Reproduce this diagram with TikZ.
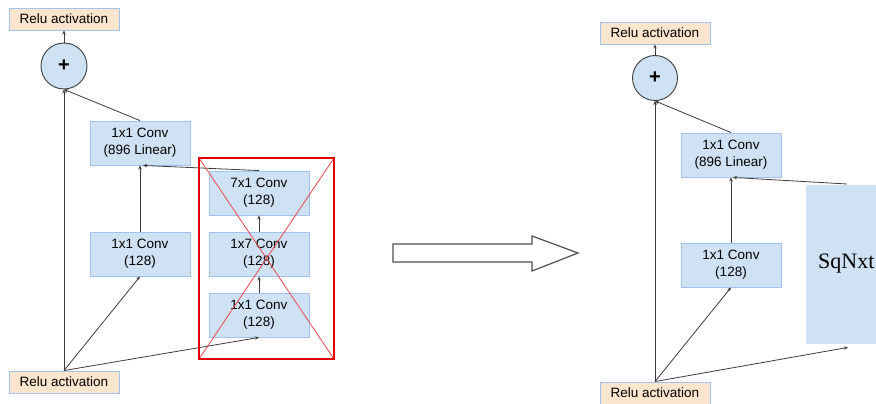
\documentclass[tikz,border=0pt]{standalone}
\usepackage{fontspec}
\setmainfont{Liberation Sans}
\newfontfamily\serifsq{Liberation Serif}
\usetikzlibrary{arrows.meta}
\definecolor{convfill}{RGB}{207,226,243}
\definecolor{convborder}{RGB}{164,194,238}
\definecolor{relufill}{RGB}{252,229,205}
\definecolor{linegray}{RGB}{60,60,60}
\definecolor{crossred}{RGB}{235,70,80}
\tikzset{
  conv/.style={rectangle, draw=convborder, fill=convfill, line width=0.9pt, minimum width=100pt, minimum height=44pt, inner sep=0pt, align=center, font=\fontsize{13.5}{17}\selectfont},
  relu/.style={rectangle, draw=convborder, fill=relufill, line width=0.9pt, minimum width=110pt, minimum height=22pt, inner sep=0pt, font=\fontsize{13.5}{16}\selectfont},
  addnode/.style={circle, draw=linegray, fill=convfill, line width=0.9pt, minimum size=46pt, inner sep=0pt, font=\fontsize{20}{20}\selectfont\bfseries},
  conn/.style={draw=linegray, line width=0.8pt, -{Stealth[length=4pt,width=3.5pt]}},
  redframe/.style={draw=red!90!black, line width=2.5pt},
  redcross/.style={draw=crossred, line width=0.8pt},
  bigarrow/.style={draw=linegray!90, line width=1.2pt, fill=white, line join=miter}
}
\begin{document}
\begin{tikzpicture}[x=1pt,y=-1pt]
\useasboundingbox (0,0) rectangle (876,404);
% ---------- left ----------
\node[relu] (rtopL) at (64,19) {Relu activation};
\node[addnode] (addL) at (64,66) {+};
\node[conv] (linL) at (140,143) {1x1 Conv\\(896 Linear)};
\node[conv] (c71) at (259,193) {7x1 Conv\\(128)};
\node[conv] (c17) at (259,254) {1x7 Conv\\(128)};
\node[conv] (c11b) at (259,315) {1x1 Conv\\(128)};
\node[conv] (c11L) at (140,254) {1x1 Conv\\(128)};
\node[relu] (rbotL) at (64,382) {Relu activation};

\draw[conn] (rbotL.north) -- (addL.south);
\draw[conn] (rbotL.north) -- (c11L.south);
\draw[conn] (rbotL.north) -- (c11b.south);
\draw[conn] (c11b.north) -- (c17.south);
\draw[conn] (c17.north) -- (c71.south);
\draw[conn] (c71.north) -- ([xshift=3pt]linL.south);
\draw[conn] (c11L.north) -- (linL.south);
\draw[conn] (linL.north) -- (addL.south);
\draw[conn] (addL.north) -- (rtopL.south);

\coordinate (rfTL) at (199,158);
\coordinate (rfBR) at (334,359);
\coordinate (rfTR) at (334,158);
\coordinate (rfBL) at (199,359);
\draw[redcross] (rfTL) -- (rfBR);
\draw[redcross] (rfTR) -- (rfBL);
\draw[redframe] (rfTL) rectangle (rfBR);

% ---------- big hollow arrow ----------
\draw[bigarrow] (393,244) -- (532,244) -- (532,236) -- (578,253) -- (532,271) -- (532,262) -- (393,262) -- cycle;

% ---------- right ----------
\node[relu] (rtopR) at (655,33) {Relu activation};
\node[addnode, minimum size=45pt] (addR) at (655,78) {+};
\node[conv] (linR) at (731,155) {1x1 Conv\\(896 Linear)};
\node[conv] (c11R) at (731,265) {1x1 Conv\\(128)};
\node[relu] (rbotR) at (655,393) {Relu activation};
\node[rectangle, fill=convfill, minimum width=84pt, minimum height=159pt, inner sep=0pt, anchor=north west] (sq) at (806,185) {};
\node[anchor=west, inner sep=0pt, font=\serifsq\fontsize{22}{22}\selectfont] (sqtext) at ([xshift=12pt,yshift=1pt]sq.west) {SqNxt};
\coordinate (sqin) at ([xshift=42pt,yshift=-3pt]sq.south west);
\coordinate (sqout) at ([xshift=41pt,yshift=1pt]sq.north west);

\draw[conn] (rbotR.north) -- (addR.south);
\draw[conn] (rbotR.north) -- (c11R.south);
\draw[conn] (rbotR.north) -- (sqin);
\draw[conn] (c11R.north) -- (linR.south);
\draw[conn] (sqout) -- ([xshift=2pt]linR.south);
\draw[conn] (linR.north) -- (addR.south);
\draw[conn] (addR.north) -- (rtopR.south);
\end{tikzpicture}
\end{document}
